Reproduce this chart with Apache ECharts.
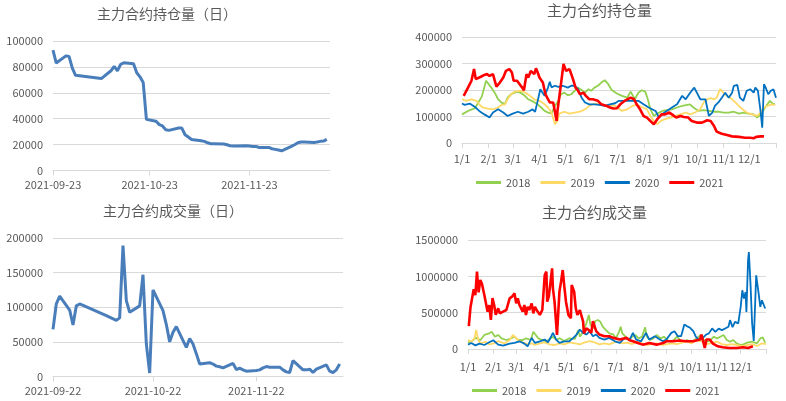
<!DOCTYPE html>
<html><head><meta charset="utf-8">
<script src="https://cdn.jsdelivr.net/npm/echarts@6/dist/echarts.min.js"></script>
<style>html,body{margin:0;padding:0;background:#fff}#c{width:786px;height:401px}</style>
</head><body><div id="c"></div>
<script>
// ---- daily panels (trading days) ----
const tradeDates = ['2021-09-22','2021-09-23','2021-09-24','2021-09-27','2021-09-28','2021-09-29','2021-09-30',
 '2021-10-08','2021-10-11','2021-10-12','2021-10-13','2021-10-14','2021-10-15','2021-10-18','2021-10-19','2021-10-20','2021-10-21','2021-10-22','2021-10-25','2021-10-26','2021-10-27','2021-10-28','2021-10-29',
 '2021-11-01','2021-11-02','2021-11-03','2021-11-04','2021-11-05','2021-11-08','2021-11-09','2021-11-10','2021-11-11','2021-11-12','2021-11-15','2021-11-16','2021-11-17','2021-11-18','2021-11-19','2021-11-22','2021-11-23','2021-11-24','2021-11-25','2021-11-26','2021-11-29','2021-11-30',
 '2021-12-01','2021-12-02','2021-12-03','2021-12-06','2021-12-07','2021-12-08','2021-12-09','2021-12-10','2021-12-13','2021-12-14','2021-12-15','2021-12-16','2021-12-17'];
// open interest starts on 2021-09-23
const oiDates = tradeDates.slice(1);
const oiDaily = [93000,83000,88500,88000,79000,73500,
 71000,77000,80500,77000,82000,83200,82500,75500,72300,68000,39500,38000,35400,34400,31500,31000,
 32800,32800,27600,25800,24000,23000,22500,21400,20700,20700,20400,19900,19100,18900,18900,19100,18900,18600,18600,17800,17800,16800,
 16300,15800,15200,18600,19900,21400,22000,22000,21700,22000,22500,22700,24000];
const volDaily = [68000,105000,116000,96000,74500,102000,104800,
 88000,81000,84600,189000,109600,92800,102000,147000,47000,5000,125000,95000,75000,50000,64000,72000,
 42000,55000,47000,33000,18000,20000,18000,15000,14000,12500,19000,10000,12000,9600,7700,8600,9600,12500,14400,13500,13500,9600,
 6700,5800,23000,9600,9600,10600,5800,10600,16800,7700,5800,9600,18000];
const oiDailyTicks = ['2021-09-23','2021-10-23','2021-11-23'];
const volDailyTicks = ['2021-09-22','2021-10-22','2021-11-22'];

// ---- seasonal panels: [day of year (Jan 1 = 0), value] ----
const monthStarts = [0,31,59,90,120,151,181,212,243,273,304,334];
const monthLabels = ['1/1','2/1','3/1','4/1','5/1','6/1','7/1','8/1','9/1','10/1','11/1','12/1'];
const years = ['2018','2019','2020','2021'];

const oi2018 = [[0,108000],[7,121000],[15,131000],[17,137000],[23,175000],[28,235000],[34,209000],[38,190000],[42,165000],[46,152000],[50,148000],[53,171000],[57,184000],[61,190000],[65,194000],[69,188000],[73,178000],[77,165000],[81,159000],[88,146000],[92,134000],[96,121000],[100,115000],[104,112000],[108,140000],[112,159000],[115,184000],[119,190000],[123,180000],[127,184000],[131,197000],[135,209000],[139,200000],[143,190000],[147,203000],[150,197000],[154,209000],[158,216000],[162,228000],[166,237000],[170,222000],[174,200000],[180,187000],[186,178000],[192,171000],[196,194000],[198,190000],[201,165000],[205,190000],[209,199000],[213,194000],[216,165000],[219,127000],[223,102000],[227,111000],[233,121000],[238,124000],[244,127000],[250,134000],[256,140000],[262,144000],[265,146000],[269,134000],[275,121000],[281,124000],[287,121000],[293,118000],[298,118000],[304,115000],[310,115000],[316,118000],[322,111000],[327,115000],[333,111000],[339,108000],[343,96000],[347,106000],[351,127000],[355,146000],[358,159000],[362,146000],[364,148000]];
const oi2019 = [[0,165000],[5,159000],[11,165000],[17,159000],[20,146000],[24,134000],[30,130000],[36,127000],[42,134000],[46,144000],[50,146000],[53,165000],[57,184000],[61,194000],[67,197000],[71,194000],[75,187000],[79,178000],[84,165000],[90,159000],[96,146000],[100,134000],[104,115000],[107,83000],[108,71000],[111,83000],[113,111000],[119,118000],[125,111000],[131,115000],[137,118000],[143,127000],[148,140000],[154,149000],[160,146000],[166,144000],[172,140000],[177,142000],[181,134000],[186,121000],[192,127000],[198,140000],[203,144000],[209,136000],[215,127000],[219,102000],[223,83000],[227,71000],[231,83000],[236,90000],[242,96000],[248,102000],[254,108000],[260,115000],[265,108000],[271,115000],[277,127000],[281,153000],[285,165000],[289,169000],[293,165000],[296,171000],[300,203000],[304,190000],[308,178000],[314,165000],[320,146000],[326,127000],[331,115000],[337,108000],[343,102000],[347,115000],[351,134000],[355,140000],[360,146000],[364,144000]];
const oi2020 = [[0,149000],[3,144000],[9,149000],[15,136000],[20,121000],[26,108000],[32,96000],[36,115000],[42,127000],[48,115000],[53,102000],[59,111000],[65,118000],[71,111000],[77,118000],[82,127000],[85,118000],[88,159000],[91,203000],[96,178000],[100,209000],[102,231000],[104,210000],[108,216000],[112,212000],[117,216000],[123,209000],[127,216000],[131,216000],[135,203000],[139,171000],[143,153000],[148,146000],[154,146000],[160,144000],[166,140000],[172,146000],[178,150000],[182,159000],[190,159000],[197,159000],[205,159000],[211,146000],[217,134000],[225,121000],[229,96000],[232,108000],[238,121000],[244,134000],[250,146000],[256,178000],[260,165000],[264,184000],[267,197000],[270,209000],[273,190000],[277,165000],[283,165000],[287,102000],[291,115000],[294,140000],[298,153000],[302,171000],[306,190000],[310,171000],[314,190000],[316,216000],[320,219000],[323,171000],[327,159000],[331,197000],[335,203000],[339,190000],[341,209000],[344,197000],[347,121000],[349,58000],[351,222000],[353,209000],[356,184000],[359,197000],[362,203000],[365,171000]];
const oi2021 = [[2,178000],[7,209000],[11,235000],[14,279000],[16,241000],[18,245000],[22,250000],[26,257000],[29,260000],[32,253000],[36,260000],[40,213000],[44,228000],[48,247000],[51,272000],[55,279000],[58,266000],[60,235000],[64,235000],[67,222000],[70,209000],[72,199000],[75,260000],[77,247000],[80,272000],[84,260000],[86,282000],[88,266000],[90,247000],[94,228000],[97,184000],[99,171000],[102,153000],[106,153000],[108,159000],[110,83000],[111,121000],[113,171000],[116,247000],[118,298000],[121,272000],[125,279000],[129,241000],[132,209000],[135,197000],[137,184000],[141,190000],[144,178000],[148,165000],[152,165000],[158,159000],[162,146000],[168,140000],[172,134000],[176,130000],[180,131000],[184,146000],[190,161000],[196,171000],[200,165000],[203,146000],[207,127000],[211,102000],[215,96000],[219,83000],[223,71000],[227,90000],[232,108000],[236,108000],[241,115000],[244,108000],[249,96000],[254,102000],[258,98000],[263,96000],[267,83000],[273,77000],[279,77000],[285,86000],[289,83000],[293,64000],[296,43000],[302,35000],[308,30000],[314,25000],[322,23000],[329,20000],[335,20000],[339,18000],[342,23000],[347,25000],[351,25000]];

const vol2018 = [[0,92000],[5,110000],[10,156000],[15,120000],[20,193000],[26,215000],[29,238000],[33,170000],[37,193000],[41,147000],[47,124000],[53,147000],[57,170000],[61,124000],[67,124000],[71,147000],[77,124000],[80,238000],[82,248000],[86,147000],[91,124000],[96,101000],[100,138000],[104,170000],[108,124000],[112,147000],[118,110000],[124,147000],[131,138000],[135,261000],[137,170000],[141,238000],[145,353000],[148,468000],[150,330000],[153,284000],[156,385000],[159,399000],[162,376000],[165,307000],[169,261000],[173,216000],[178,200000],[181,146000],[185,237000],[187,306000],[189,215000],[193,169000],[197,123000],[201,169000],[205,192000],[209,146000],[213,169000],[217,297000],[219,169000],[223,123000],[227,146000],[231,192000],[236,146000],[240,169000],[244,123000],[248,100000],[252,123000],[256,169000],[260,123000],[264,100000],[268,123000],[274,100000],[280,146000],[285,192000],[289,123000],[293,100000],[297,123000],[301,169000],[305,146000],[309,169000],[313,192000],[317,123000],[321,100000],[325,123000],[329,78000],[334,55000],[338,68000],[342,87000],[348,100000],[354,78000],[358,146000],[361,160000],[364,87000]];
const vol2019 = [[0,124000],[4,100000],[8,147000],[10,261000],[13,110000],[16,78000],[21,100000],[26,64000],[32,78000],[37,110000],[41,92000],[45,78000],[51,124000],[55,193000],[59,147000],[63,110000],[67,92000],[73,64000],[78,78000],[82,55000],[88,78000],[94,92000],[100,64000],[106,55000],[112,78000],[118,64000],[124,92000],[131,78000],[137,64000],[143,92000],[149,110000],[155,92000],[161,64000],[167,78000],[173,64000],[179,92000],[183,100000],[189,78000],[195,87000],[201,68000],[207,100000],[213,78000],[219,55000],[225,68000],[231,78000],[238,55000],[244,68000],[250,78000],[256,68000],[262,87000],[268,100000],[274,78000],[280,123000],[287,100000],[293,68000],[299,87000],[305,100000],[311,68000],[317,55000],[323,68000],[329,55000],[336,41000],[342,55000],[348,68000],[354,41000],[360,78000],[365,68000]];
const vol2020 = [[0,60000],[4,83000],[9,50000],[14,74000],[20,55000],[26,93000],[31,120000],[37,60000],[43,46000],[51,74000],[57,83000],[63,106000],[69,74000],[73,37000],[78,153000],[82,83000],[88,106000],[94,130000],[98,93000],[102,176000],[104,222000],[108,130000],[112,83000],[118,106000],[124,106000],[129,153000],[133,199000],[137,268000],[141,222000],[145,199000],[149,245000],[153,176000],[157,199000],[161,153000],[167,130000],[173,153000],[180,106000],[186,83000],[192,153000],[198,130000],[202,222000],[206,130000],[212,106000],[218,222000],[222,130000],[229,176000],[235,130000],[239,106000],[243,130000],[249,222000],[253,245000],[257,176000],[261,176000],[265,338000],[268,315000],[272,292000],[276,245000],[279,169000],[283,123000],[287,146000],[292,200000],[295,215000],[299,283000],[303,237000],[307,280000],[311,260000],[315,283000],[319,306000],[321,397000],[324,300000],[327,374000],[331,352000],[334,580000],[336,808000],[338,694000],[340,785000],[341,511000],[343,1219000],[344,1333000],[346,900000],[348,352000],[350,110000],[353,1014000],[356,763000],[358,580000],[360,671000],[362,648000],[364,557000]];
const vol2021 = [[1,315000],[3,570000],[5,550000],[7,824000],[9,740000],[11,1064000],[13,780000],[15,950000],[17,900000],[20,743000],[22,720000],[24,514000],[26,605000],[28,400000],[30,700000],[32,605000],[34,470000],[37,560000],[39,490000],[43,514000],[47,537000],[51,697000],[54,720000],[57,766000],[59,628000],[61,697000],[63,605000],[65,628000],[67,514000],[69,605000],[71,468000],[73,582000],[75,537000],[78,628000],[80,490000],[82,582000],[84,537000],[86,560000],[88,470000],[91,537000],[94,1018000],[96,1064000],[97,651000],[99,720000],[101,697000],[103,1110000],[104,835000],[106,651000],[109,193000],[112,789000],[114,927000],[116,1087000],[118,858000],[120,651000],[123,468000],[126,422000],[127,880000],[130,789000],[132,560000],[134,468000],[137,537000],[139,560000],[141,376000],[142,215000],[145,284000],[148,261000],[151,222000],[153,384000],[155,407000],[157,245000],[161,199000],[167,176000],[173,176000],[178,153000],[186,130000],[194,153000],[198,120000],[202,106000],[208,83000],[214,60000],[222,83000],[231,60000],[239,83000],[243,106000],[251,106000],[259,116000],[267,106000],[276,106000],[284,130000],[286,199000],[288,106000],[290,14000],[292,130000],[296,130000],[300,74000],[306,37000],[312,23000],[320,14000],[329,14000],[337,23000],[343,14000],[349,37000]];

// ---- build ----
const DAY = 86400000;
const ts = s => { const [y,m,d] = s.split('-').map(Number); return Date.UTC(y, m-1, d); };
const fmtDate = v => { const d = new Date(v); const p = n => String(n).padStart(2,'0'); return d.getUTCFullYear()+'-'+p(d.getUTCMonth()+1)+'-'+p(d.getUTCDate()); };
const dayOff = (s, base) => Math.round((ts(s) - ts(base)) / DAY);
const FONT = '"Noto Sans CJK SC","Noto Sans",sans-serif';
const TXT = '#595959', GRID = '#D9D9D9';
const yearColors = ['#92D050','#FFD966','#0070C0','#FF0000'];
const yearWidths = [1.8,1.8,1.8,2.6];

function yAxis(gi, max, interval){
  return {type:'value', gridIndex:gi, min:0, max:max, interval:interval,
    axisLine:{show:false}, axisTick:{show:false},
    axisLabel:{color:TXT, fontSize:11, fontFamily:FONT, margin:10, formatter: v => String(v)},
    splitLine:{lineStyle:{color:GRID, width:1}}};
}
// date axis expressed as days since its first date
function dateAxis(gi, min, max, ticks){
  const cv = ticks.map(t => dayOff(t, min));
  return {type:'value', gridIndex:gi, min:0, max:dayOff(max, min),
    axisLine:{lineStyle:{color:GRID}},
    axisTick:{show:true, length:5, lineStyle:{color:GRID}, customValues:cv},
    axisLabel:{color:TXT, fontSize:11, fontFamily:FONT, margin:9, customValues:cv,
      formatter: v => fmtDate(ts(min) + v * DAY)},
    splitLine:{show:false}};
}
function doyAxis(gi, margin){
  return {type:'value', gridIndex:gi, min:0, max:365,
    axisLine:{lineStyle:{color:GRID}},
    axisTick:{show:true, length:5, lineStyle:{color:GRID}, customValues:monthStarts.concat([365])},
    axisLabel:{color:TXT, fontSize:11, fontFamily:FONT, margin:margin, customValues:monthStarts,
      formatter: v => monthLabels[monthStarts.indexOf(Math.round(v))] || ''},
    splitLine:{show:false}};
}
function titleAt(text, left, top, size){
  return {text:text, left:left, top:top, padding:0,
    textStyle:{color:TXT, fontSize:size, fontWeight:'normal', fontFamily:FONT}};
}
function legendAt(left, top){
  return {data:years, left:left, top:top, orient:'horizontal', icon:'rect', itemWidth:25, itemHeight:3, itemGap:10,
    padding:0, textStyle:{color:TXT, fontSize:11, fontFamily:FONT}, selectedMode:false};
}

const oiYears = [oi2018, oi2019, oi2020, oi2021];
const volYears = [vol2018, vol2019, vol2020, vol2021];
const oiBase = '2021-09-23', volBase = '2021-09-22';
const series = [
  {type:'line', xAxisIndex:0, yAxisIndex:0, showSymbol:false, symbol:'none', lineStyle:{color:'#4A7EBB', width:3}, itemStyle:{color:'#4A7EBB'},
   data: oiDates.map((d,i)=>[dayOff(d, oiBase), oiDaily[i]])},
  {type:'line', xAxisIndex:2, yAxisIndex:2, showSymbol:false, symbol:'none', lineStyle:{color:'#4A7EBB', width:3}, itemStyle:{color:'#4A7EBB'},
   data: tradeDates.map((d,i)=>[dayOff(d, volBase), volDaily[i]])}
];
years.forEach((y,k)=>{
  series.push({name:y, type:'line', xAxisIndex:1, yAxisIndex:1, showSymbol:false, symbol:'none',
    lineStyle:{color:yearColors[k], width:yearWidths[k]}, itemStyle:{color:yearColors[k]}, data:oiYears[k], z:2+k});
});
years.forEach((y,k)=>{
  series.push({name:y, type:'line', xAxisIndex:3, yAxisIndex:3, showSymbol:false, symbol:'none',
    lineStyle:{color:yearColors[k], width:yearWidths[k]}, itemStyle:{color:yearColors[k]}, data:volYears[k], z:2+k});
});

const chart = echarts.init(document.getElementById('c'), null, {renderer:'canvas'});
chart.setOption({
  animation:false,
  backgroundColor:'#fff',
  title:[
    titleAt('主力合约持仓量（日）', 97, 7, 14),
    titleAt('主力合约持仓量', 547, 3, 15),
    titleAt('主力合约成交量（日）', 103, 204, 14),
    titleAt('主力合约成交量', 542, 205, 15)
  ],
  legend:[legendAt(476, 177), legendAt(472, 385)],
  grid:[
    {left:53, top:41, width:277, height:129.5},
    {left:462, top:37, width:314, height:106},
    {left:53, top:238, width:290, height:138.5},
    {left:468, top:240, width:298, height:109}
  ],
  xAxis:[
    dateAxis(0, oiBase, '2021-12-18', oiDailyTicks),
    doyAxis(1, 10),
    dateAxis(2, volBase, '2021-12-18', volDailyTicks),
    doyAxis(3, 12)
  ],
  yAxis:[
    yAxis(0, 100000, 20000),
    yAxis(1, 400000, 100000),
    yAxis(2, 200000, 50000),
    yAxis(3, 1500000, 500000)
  ],
  series:series
});
</script>
</body></html>
